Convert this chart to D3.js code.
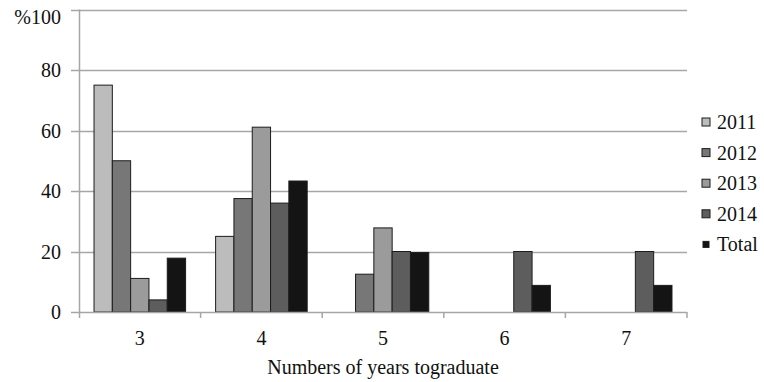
<!DOCTYPE html>
<html>
<head><meta charset="utf-8"></head>
<body style="margin:0">
<script src="https://cdn.jsdelivr.net/npm/d3@7"></script>
<script>

// data //////////////////////////////////////////////////////////////////////

var years   = ["3", "4", "5", "6", "7"];
var series  = ["2011", "2012", "2013", "2014", "Total"];
var v2011   = [75, 25, 0, 0, 0];
var v2012   = [50, 37.5, 12.5, 0, 0];
var v2013   = [11.1, 61.1, 27.8, 0, 0];
var v2014   = [4, 36, 20, 20, 20];
var vTotal  = [17.8, 43.3, 19.7, 8.8, 8.8];
var yTicks  = [0, 20, 40, 60, 80, 100];

var colors  = ["#bcbcbc", "#777777", "#9b9b9b", "#5d5d5d", "#141414"];
var values  = [v2011, v2012, v2013, v2014, vTotal];

// layout ////////////////////////////////////////////////////////////////////

var plot = {left: 79, right: 687, top: 9.5, bottom: 312};

var svg = d3.select("body").append("svg")
    .attr("width", 764)
    .attr("height", 382);

var x0 = d3.scaleBand()
    .domain(years)
    .range([plot.left, plot.right]);

var x1 = d3.scaleBand()
    .domain(series)
    .range([0, x0.bandwidth()])
    .paddingOuter(0.82);

var y = d3.scaleLinear()
    .domain([0, 100])
    .range([plot.bottom, plot.top]);

var color = d3.scaleOrdinal().domain(series).range(colors);

function label(sel) {
	return sel.attr("font-family", "Tinos, 'Liberation Serif', serif").attr("font-size", 20).attr("fill", "#111");
}

// gridlines
svg.append("g")
    .selectAll("line")
    .data(yTicks.filter(t => t > 0))
    .join("line")
      .attr("x1", plot.left - 8)
      .attr("x2", plot.right)
      .attr("y1", d => Math.round(y(d)) + 0.5)
      .attr("y2", d => Math.round(y(d)) + 0.5)
      .attr("stroke", "#a6a6a6")
      .attr("stroke-width", 1.5);

// bars
var rows = [];
years.forEach((yr, i) => {
	series.forEach((s, j) => {
		if (values[j][i] > 0) rows.push({year: yr, series: s, value: values[j][i]});
	});
});

svg.append("g")
    .selectAll("rect")
    .data(rows)
    .join("rect")
      .attr("x", d => x0(d.year) + x1(d.series))
      .attr("y", d => y(d.value))
      .attr("width", x1.bandwidth())
      .attr("height", d => y(0) - y(d.value))
      .attr("fill", d => color(d.series))
      .attr("stroke", "#1c1c1c")
      .attr("stroke-width", 1);

// axes lines
svg.append("line")
    .attr("x1", plot.left - 8).attr("x2", plot.right)
    .attr("y1", plot.bottom + 0.5).attr("y2", plot.bottom + 0.5)
    .attr("stroke", "#a6a6a6").attr("stroke-width", 1.5);
svg.append("line")
    .attr("x1", plot.left + 0.5).attr("x2", plot.left + 0.5)
    .attr("y1", plot.top).attr("y2", plot.bottom + 6)
    .attr("stroke", "#a6a6a6").attr("stroke-width", 1.5);
svg.selectAll(".tick")
    .data(years)
    .join("line")
      .attr("class", "tick")
      .attr("x1", d => x0(d) + x0.bandwidth())
      .attr("x2", d => x0(d) + x0.bandwidth())
      .attr("y1", plot.bottom)
      .attr("y2", plot.bottom + 6)
      .attr("stroke", "#a6a6a6")
      .attr("stroke-width", 1.5);

// y labels (top one sits just under its gridline so it is not clipped)
svg.selectAll(".ylbl")
    .data(yTicks)
    .join("text")
      .attr("class", "ylbl")
      .attr("x", 61)
      .attr("y", d => d === 100 ? 24 : y(d) + 7)
      .attr("text-anchor", "end")
      .call(label)
      .text(d => d === 100 ? "%100" : d);

// x labels
svg.selectAll(".xlbl")
    .data(years)
    .join("text")
      .attr("class", "xlbl")
      .attr("x", d => x0(d) + x0.bandwidth() / 2)
      .attr("y", 345)
      .attr("text-anchor", "middle")
      .call(label)
      .text(d => d);

svg.append("text")
    .attr("x", (plot.left + plot.right) / 2)
    .attr("y", 374)
    .attr("text-anchor", "middle")
    .call(label)
    .text("Numbers of years tograduate");

// legend
var legend = svg.selectAll(".leg")
    .data(series)
    .join("g")
      .attr("class", "leg")
      .attr("transform", (d, i) => `translate(702, ${122 + i * 30.6})`);

legend.append("rect")
    .attr("x", d => d === "Total" ? 1 : 0)
    .attr("y", d => d === "Total" ? -3 : -4)
    .attr("width", d => d === "Total" ? 6 : 8)
    .attr("height", d => d === "Total" ? 6 : 8)
    .attr("fill", d => color(d))
    .attr("stroke", "#1c1c1c")
    .attr("stroke-width", 1);

legend.append("text")
    .attr("x", 15)
    .attr("y", 7)
    .call(label)
    .text(d => d);

</script>
</body>
</html>
